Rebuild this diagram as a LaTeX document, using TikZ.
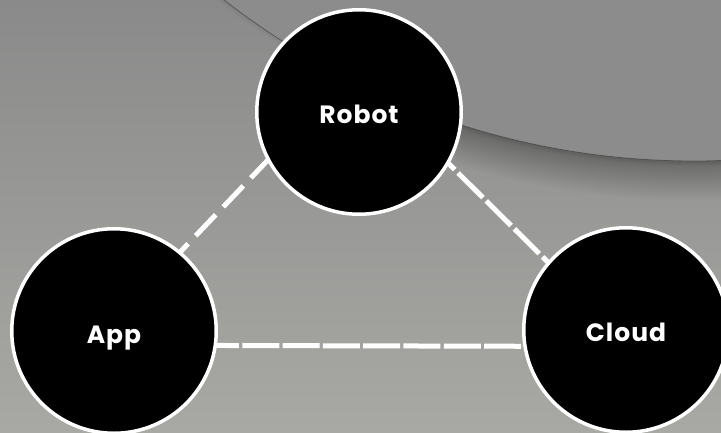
\documentclass[tikz,border=0pt]{standalone}
\usepackage{fontspec}
\setmainfont{Poppins}[LetterSpace=4]
\pgfdeclarelayer{bg}
\pgfdeclarelayer{links}
\pgfsetlayers{bg,links,main}
\definecolor{bgtop}{HTML}{8A8A8A}
\definecolor{bgbot}{HTML}{A8A8A4}
\definecolor{disc}{HTML}{8C8C8C}
\begin{document}
\begin{tikzpicture}[x=1pt,y=-1pt,
  hub/.style={circle, fill=black, draw=white, line width=3.5pt, minimum size=204.5pt,
    inner sep=0pt, text=white, font=\fontsize{25}{29}\selectfont\bfseries},
  link/.style={draw=white, line width=5pt, shorten <=-3pt, shorten >=-3pt},
]
\useasboundingbox (0,0) rectangle (721,432);
\node[hub] (Robot) at (359,112) {\raisebox{-11.5pt}[0pt][0pt]{Robot}};
\node[hub] (App) at (114,331) {\raisebox{-12.5pt}[0pt][0pt]{App}};
\node[hub] (Cloud) at (626,330) {\raisebox{-11.5pt}[0pt][0pt]{Cloud}};
\begin{pgfonlayer}{bg}
  \shade[top color=bgtop, bottom color=bgbot] (0,0) rectangle (721,432);
  \begin{scope}
    \clip (0,0) rectangle (721,432);
    \begin{scope}
      \clip (400,0) rectangle (721,432);
      \foreach \i in {22,21,...,1}
        \fill[black, opacity=0.011] (694,-605) circle[radius={(766+1.8*\i)*1pt}];
    \end{scope}
    \foreach \i in {3,2,1}
      \fill[black, opacity=0.02] (694,-605) circle[radius={(766+1.5*\i)*1pt}];
    \fill[disc] (694,-605) circle[radius=766pt];
    \draw[black!55!gray, opacity=0.6, line width=0.8pt] (694,-605) circle[radius=766pt];
  \end{scope}
\end{pgfonlayer}
\begin{pgfonlayer}{links}
  \draw[link, dash pattern=on 29pt off 11pt, dash phase=15.5pt] (App.50.8) -- (Robot.208.5);
  \draw[link, dash pattern=on 35pt off 4.7pt, dash phase=24pt] (Robot.-30.8) -- (Cloud.139.2);
  \draw[link, dash pattern=on 37pt off 3.3pt, dash phase=12pt] (App.-8.8) -- (Cloud.189.4);
\end{pgfonlayer}
\end{tikzpicture}
\end{document}
